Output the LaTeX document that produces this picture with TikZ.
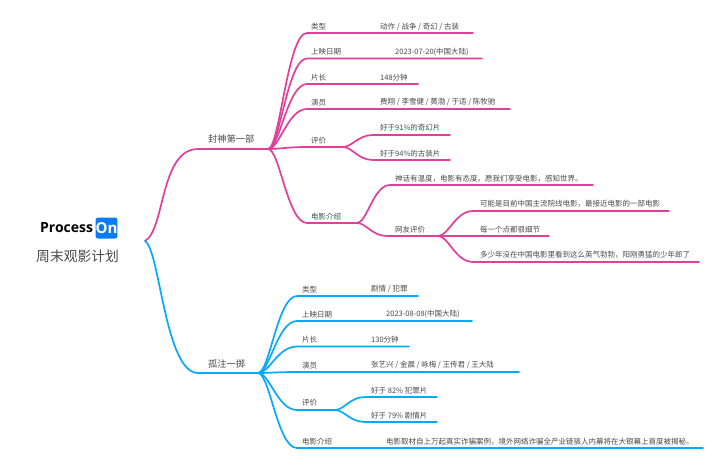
\documentclass[tikz,border=0pt]{standalone}
\usepackage{fontspec}
\setmainfont{Noto Sans CJK SC}
\newfontfamily\logofont{Open Sans}
\usetikzlibrary{calc}
\definecolor{mg}{HTML}{E0409B}
\definecolor{bl}{HTML}{06AAFA}
\definecolor{lg}{HTML}{0A7AF5}
\definecolor{tx}{HTML}{484848}
\newcommand{\lk}[4]{\draw[#1] (#2) .. controls ($(#2)!0.3!(#3 |- #2)$) and ($(#3)!0.5!(#2 |- #3)$) .. (#3) -- (#4);}
\newcommand{\pt}[3]{\coordinate (#1) at (#2,-#3);}
\tikzset{
  lbl/.style={anchor=west,inner sep=0pt,yshift=-0.7pt,text=tx,font=\fontsize{7.5}{9}\selectfont},
  toplbl/.style={anchor=west,inner sep=0pt,text=tx,font=\fontsize{9.2}{11}\selectfont},
  magenta line/.style={draw=mg,line width=1.7pt,line cap=round,line join=round},
  blue line/.style={draw=bl,line width=1.7pt,line cap=round,line join=round}
}
\begin{document}
\begin{tikzpicture}[x=1pt,y=1pt]
\useasboundingbox (0,0) rectangle (720,-466);
% logo and title
\node[anchor=west,inner sep=0pt,font=\logofont\bfseries\fontsize{14}{16}\selectfont] (logo) at (40,-228) {Process};
\node[fill=lg,rounded corners=2.5pt,minimum width=21pt,minimum height=21pt,inner sep=0pt,text=white,font=\logofont\bfseries\fontsize{15}{16}\selectfont] (on) at (106.5,-228) {On};
\node[anchor=west,inner sep=0pt,text=tx,font=\fontsize{13.8}{16}\selectfont] (title) at (36,-256) {周末观影计划};
% key points
\pt{root}{145}{241}
\pt{m0}{198}{149}\pt{m}{268}{149}
\pt{b0}{198}{373}\pt{b}{258}{373}
\pt{mc1}{165}{230}\pt{mc2}{160}{149}
\pt{bc1}{160}{250}\pt{bc2}{165}{373}
\draw[magenta line] (root) .. controls (mc1) and (mc2) .. (m0) -- (m);
\draw[blue line] (root) .. controls (bc1) and (bc2) .. (b0) -- (b);
\node[toplbl] (mt) at (208,-139) {封神第一部};
\node[toplbl] (bt) at (208,-364) {孤注一掷};
% magenta
\pt{m1s}{307}{33}\pt{m1e}{473}{33}
\pt{m2s}{307}{58.5}\pt{m2e}{482}{58.5}
\pt{m3s}{307}{84}\pt{m3e}{418}{84}
\pt{m4s}{307}{109}\pt{m4e}{510}{109}
\pt{m5s}{307}{147}\pt{m5e}{343}{147}
\pt{m51s}{373}{135}\pt{m51e}{450}{135}
\pt{m52s}{373}{160}\pt{m52e}{450}{160}
\pt{m6s}{307}{223}\pt{m6e}{357}{223}
\pt{m61s}{390}{185}\pt{m61e}{593}{185}
\pt{m62s}{387}{236}\pt{m62e}{438}{236}
\pt{m621s}{473}{211}\pt{m621e}{669}{211}
\pt{m622s}{473}{236}\pt{m622e}{549}{236}
\pt{m623s}{473}{262}\pt{m623e}{699}{262}
\lk{magenta line}{m}{m1s}{m1e}
\lk{magenta line}{m}{m2s}{m2e}
\lk{magenta line}{m}{m3s}{m3e}
\lk{magenta line}{m}{m4s}{m4e}
\lk{magenta line}{m}{m5s}{m5e}
\lk{magenta line}{m5e}{m51s}{m51e}
\lk{magenta line}{m5e}{m52s}{m52e}
\lk{magenta line}{m}{m6s}{m6e}
\lk{magenta line}{m6e}{m61s}{m61e}
\lk{magenta line}{m6e}{m62s}{m62e}
\lk{magenta line}{m62e}{m621s}{m621e}
\lk{magenta line}{m62e}{m622s}{m622e}
\lk{magenta line}{m62e}{m623s}{m623e}
\node[lbl] (a1) at (311,-26) {类型};
\node[lbl] (a1v) at (380,-26) {动作 / 战争 / 奇幻 / 古装};
\node[lbl] (a2) at (311,-51) {上映日期};
\node[lbl] (a2v) at (395,-51) {2023-07-20(中国大陆)};
\node[lbl] (a3) at (311,-76.5) {片长};
\node[lbl] (a3v) at (380,-76.5) {148分钟};
\node[lbl] (a4) at (311,-101.5) {演员};
\node[lbl] (a4v) at (380,-101.5) {费翔 / 李雪健 / 黄渤 / 于适 / 陈牧驰};
\node[lbl] (a5) at (311,-139.5) {评价};
\node[lbl] (a51) at (380,-127) {好于91\%的奇幻片};
\node[lbl] (a52) at (380,-152.5) {好于94\%的古装片};
\node[lbl] (a6) at (311,-216) {电影介绍};
\node[lbl] (a61) at (395,-178) {神话有温度，电影有态度。愿我们享受电影，感知世界。};
\node[lbl] (a62) at (395,-229) {网友评价};
\node[lbl] (a621) at (480,-203.5) {可能是目前中国主流院线电影，最接近电影的一部电影};
\node[lbl] (a622) at (480,-229) {每一个点都很细节};
\node[lbl] (a623) at (480,-254.5) {多少年没在中国电影里看到这么英气勃勃，阳刚勇猛的少年郎了};
% blue
\pt{b1s}{297}{296}\pt{b1e}{418}{296}
\pt{b2s}{297}{321}\pt{b2e}{472}{321}
\pt{b3s}{297}{346.5}\pt{b3e}{409}{346.5}
\pt{b4s}{297}{372}\pt{b4e}{519}{372}
\pt{b5s}{297}{410}\pt{b5e}{335}{410}
\pt{b51s}{365}{397}\pt{b51e}{437}{397}
\pt{b52s}{365}{422}\pt{b52e}{437}{422}
\pt{b6s}{297}{448}\pt{b6e}{703}{448}
\lk{blue line}{b}{b1s}{b1e}
\lk{blue line}{b}{b2s}{b2e}
\lk{blue line}{b}{b3s}{b3e}
\lk{blue line}{b}{b4s}{b4e}
\lk{blue line}{b}{b5s}{b5e}
\lk{blue line}{b5e}{b51s}{b51e}
\lk{blue line}{b5e}{b52s}{b52e}
\lk{blue line}{b}{b6s}{b6e}
\node[lbl] (c1) at (302,-288.5) {类型};
\node[lbl] (c1v) at (371,-288.5) {剧情 / 犯罪};
\node[lbl] (c2) at (302,-313.5) {上映日期};
\node[lbl] (c2v) at (386,-313.5) {2023-08-08(中国大陆)};
\node[lbl] (c3) at (302,-339) {片长};
\node[lbl] (c3v) at (371,-339) {130分钟};
\node[lbl] (c4) at (302,-364.5) {演员};
\node[lbl] (c4v) at (371,-364.5) {张艺兴 / 金晨 / 咏梅 / 王传君 / 王大陆};
\node[lbl] (c5) at (302,-402) {评价};
\node[lbl] (c51) at (371,-389.5) {好于 82\% 犯罪片};
\node[lbl] (c52) at (371,-415) {好于 79\% 剧情片};
\node[lbl] (c6) at (302,-440.5) {电影介绍};
\node[lbl] (c6v) at (386,-440.5) {电影取材自上万起真实诈骗案例，境外网络诈骗全产业链骇人内幕将在大银幕上首度被揭秘。};
\end{tikzpicture}
\end{document}
